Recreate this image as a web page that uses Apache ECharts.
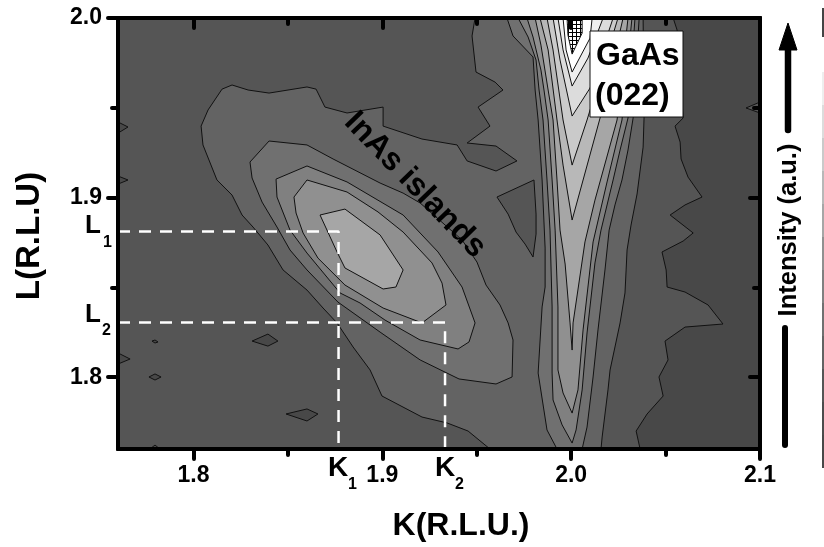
<!DOCTYPE html>
<html><head><meta charset="utf-8">
<style>html,body{margin:0;padding:0;background:#fff}#c{width:824px;height:547px}</style>
<script src="https://cdn.jsdelivr.net/npm/echarts@6/dist/echarts.min.js"></script>
</head><body><div id="c"></div>
<script>
const K_MIN=1.76,K_MAX=2.1,L_MIN=1.76,L_MAX=2.0;
const kMajor=[1.8,1.9,2.0,2.1], kMinor=[1.85,1.95,2.05];
const lMajor=[1.8,1.9,2.0], lMinor=[1.85,1.95];
const K1=1.8768,K2=1.9332,L1=1.8811,L2=1.8305;

// contour outlines, [k, l] in reciprocal lattice units
const floor=[[1.76,1.76],[2.1,1.76],[2.1,2],[1.76,2]];
const level1=[[1.76,2],[2.0540,2],[2.0561,1.9933],[2.0593,1.9443],[2.0550,1.9398],[2.0577,1.9309],[2.0582,1.9215],[2.0619,1.9114],[2.0693,1.9003],[2.0603,1.8959],[2.0524,1.8903],[2.0646,1.8803],[2.0593,1.8758],[2.0481,1.8697],[2.0503,1.8597],[2.0508,1.8502],[2.0603,1.8474],[2.0725,1.8402],[2.0804,1.8296],[2.0603,1.8279],[2.0497,1.8201],[2.0513,1.8096],[2.0465,1.8001],[2.0487,1.7895],[2.0402,1.7795],[2.0344,1.7700],[2.0365,1.76],[1.76,1.76]];
const dips=[
 [[1.8310,1.8201],[1.8394,1.8240],[1.8447,1.8201],[1.8394,1.8173]],
 [[1.7780,1.8201],[1.7796,1.8207],[1.7812,1.8196],[1.7796,1.8190]],
 [[1.7764,1.8001],[1.7796,1.8018],[1.7828,1.8001],[1.7796,1.7984]],
 [[1.76,1.8135],[1.7664,1.8101],[1.76,1.8073]],
 [[1.76,1.9421],[1.7653,1.9393],[1.76,1.9359]],
 [[1.76,1.9120],[1.7653,1.9098],[1.76,1.9075]],
 [[1.8490,1.7795],[1.8601,1.7823],[1.8659,1.7795],[1.8601,1.7756]],
 [[1.7769,1.76],[1.7796,1.7622],[1.7822,1.76]]
];
const edgeIsland=[[2.1,1.9532],[2.0926,1.9499],[2.1,1.9471]];
const level2=[[1.9570,1.76],[1.9454,1.7700],[1.9343,1.7745],[1.9210,1.7778],[1.8998,1.7895],[1.8935,1.8040],[1.8845,1.8168],[1.8760,1.8302],[1.8686,1.8385],[1.8601,1.8485],[1.8474,1.8597],[1.8394,1.8736],[1.8315,1.8836],[1.8257,1.8903],[1.8204,1.9014],[1.8124,1.9098],[1.8050,1.9293],[1.8040,1.9398],[1.8077,1.9488],[1.8151,1.9604],[1.8204,1.9627],[1.8289,1.9599],[1.8400,1.9582],[1.8601,1.9616],[1.8649,1.9604],[1.8696,1.9504],[1.8813,1.9471],[1.9004,1.9504],[1.9004,1.9398],[1.9210,1.9326],[1.9396,1.9293],[1.9449,1.9204],[1.9602,1.9148],[1.9713,1.9204],[1.9602,1.9287],[1.9449,1.9304],[1.9570,1.9398],[1.9507,1.9504],[1.9639,1.9599],[1.9597,1.9643],[1.9496,1.9699],[1.9475,1.9900],[1.9491,2],[2.0381,2],[2.0386,1.9443],[2.0381,1.9281],[2.0349,1.9020],[2.0317,1.8847],[2.0296,1.8708],[2.0291,1.8597],[2.0285,1.8469],[2.0259,1.8302],[2.0206,1.8040],[2.0195,1.7929],[2.0164,1.7667],[2.0158,1.76]];
const level2Hole=[[1.9607,1.9003],[1.9803,1.9098],[1.9814,1.8908],[1.9814,1.8797],[1.9798,1.8669],[1.9756,1.8741],[1.9708,1.8808],[1.9666,1.8908]];
const islandB=[[1.8299,1.9198],[1.8400,1.9315],[1.8601,1.9293],[1.8739,1.9215],[1.8988,1.9081],[1.9110,1.9025],[1.9200,1.8970],[1.9422,1.8764],[1.9501,1.8641],[1.9549,1.8513],[1.9623,1.8402],[1.9666,1.8302],[1.9692,1.8207],[1.9687,1.8001],[1.9602,1.7962],[1.9406,1.7990],[1.9200,1.8096],[1.8988,1.8251],[1.8765,1.8418],[1.8601,1.8597],[1.8511,1.8708],[1.8442,1.8836],[1.8363,1.8975],[1.8310,1.9109]];
const islandC=[[1.8437,1.9103],[1.8601,1.9176],[1.8813,1.9087],[1.9110,1.8903],[1.9295,1.8697],[1.9422,1.8502],[1.9491,1.8302],[1.9459,1.8196],[1.9401,1.8157],[1.9200,1.8207],[1.9014,1.8318],[1.8882,1.8413],[1.8776,1.8469],[1.8601,1.8691],[1.8511,1.8819],[1.8442,1.9003]];
const islandD=[[1.8532,1.9003],[1.8601,1.9098],[1.8813,1.9031],[1.8977,1.8920],[1.9110,1.8808],[1.9263,1.8636],[1.9316,1.8524],[1.9337,1.8402],[1.9210,1.8302],[1.9004,1.8385],[1.8802,1.8513],[1.8659,1.8663],[1.8580,1.8803],[1.8543,1.8914]];
const islandE=[[1.8670,1.8903],[1.8802,1.8936],[1.8988,1.8792],[1.9110,1.8597],[1.9072,1.8502],[1.9004,1.8491],[1.8802,1.8608],[1.8760,1.8697]];
const ridgeP=[[1.9660,2],[1.9692,1.9900],[1.9798,1.9783],[1.9809,1.9599],[1.9825,1.9432],[1.9846,1.9098],[1.9862,1.8719],[1.9862,1.8502],[1.9846,1.8391],[1.9825,1.8023],[1.9872,1.7706],[1.9925,1.76],[2.0058,1.76],[2.0084,1.7722],[2.0116,1.8001],[2.0142,1.8263],[2.0179,1.8597],[2.0201,1.8819],[2.0232,1.8959],[2.0269,1.9098],[2.0301,1.9265],[2.0328,1.9443],[2.0360,2]];
const ridgeQ=[[1.9719,2],[1.9772,1.9894],[1.9814,1.9766],[1.9830,1.9599],[1.9851,1.9432],[1.9872,1.9098],[1.9888,1.8819],[1.9899,1.8391],[1.9899,1.8023],[1.9904,1.7873],[1.9952,1.7734],[2.0005,1.7633],[2.0026,1.7706],[2.0058,1.7929],[2.0084,1.8246],[2.0126,1.8636],[2.0158,1.8819],[2.0222,1.9098],[2.0259,1.9265],[2.0301,1.9443],[2.0338,2]];
const ridgeR=[[1.9766,2],[1.9798,1.9894],[1.9840,1.9710],[1.9856,1.9599],[1.9878,1.9432],[1.9899,1.9098],[1.9915,1.8819],[1.9930,1.8391],[1.9930,1.8040],[1.9957,1.7912],[2.0005,1.7800],[2.0036,1.7929],[2.0063,1.8263],[2.0116,1.8753],[2.0190,1.9087],[2.0269,1.9432],[2.0322,2]];
const ridgeS=[[1.9809,2],[1.9840,1.9849],[1.9878,1.9599],[1.9904,1.9432],[1.9925,1.9098],[1.9941,1.8819],[1.9968,1.8630],[1.9994,1.8302],[2.0005,1.8151],[2.0010,1.8302],[2.0073,1.8753],[2.0126,1.8986],[2.0243,1.9432],[2.0301,2]];
const ridgeT=[[1.9835,2],[1.9878,1.9822],[1.9925,1.9432],[1.9957,1.9181],[2.0005,1.8875],[2.0153,1.9443],[2.0275,2]];
const ridgeU=[[1.9872,2],[1.9904,1.9822],[1.9957,1.9432],[2.0005,1.9181],[2.0084,1.9432],[2.0248,2]];
const ridgeV=[[1.9904,2],[1.9941,1.9766],[2.0005,1.9454],[2.0100,1.9610],[2.0222,2]];
const ridgeW=[[1.9930,2],[1.9957,1.9822],[2.0005,1.9621],[2.0089,1.9777],[2.0169,2]];
const ridgeX=[[1.9957,2],[1.9973,1.9822],[2.0005,1.9699],[2.0100,1.9888],[2.0111,2]];
const ridgeY=[[1.9978,2],[1.9983,1.9905],[2.0005,1.9799],[2.0058,1.9916],[2.0058,2]];

const shades=['#484848','#555555','#636363','#707070','#808080','#909090','#a6a6a6','#b8b8b8','#cacaca','#dcdcdc','#eeeeee','#ffffff'];
const scaleBar=['#eeeeee','#dcdcdc','#cacaca','#b8b8b8','#a6a6a6','#909090','#808080','#707070','#636363','#555555','#4c4c4c','#484848'];

const hatch=document.createElement('canvas');hatch.width=hatch.height=4;
(function(){const g=hatch.getContext('2d');g.fillStyle='#fff';g.fillRect(0,0,4,4);g.fillStyle='#000';g.fillRect(0,0,4,1);g.fillRect(0,0,1,4);})();

const layers=[
 [floor,shades[0]],[level1,shades[1]],
 ...dips.map(p=>[p,shades[0]]),[edgeIsland,shades[1]],
 [level2,shades[2]],[level2Hole,shades[1]],
 [islandB,shades[3]],[islandC,shades[4]],[islandD,shades[5]],[islandE,shades[6]],
 [ridgeP,shades[3]],[ridgeQ,shades[4]],[ridgeR,shades[5]],[ridgeS,shades[6]],
 [ridgeT,shades[7]],[ridgeU,shades[8]],[ridgeV,shades[9]],[ridgeW,shades[10]],[ridgeX,shades[11]],
 [ridgeY,{image:hatch,repeat:'repeat'}]
];

const FF='"Liberation Sans",Arial,sans-serif';
function xAx(pos,vals,len,inside,label){return {type:'value',min:K_MIN,max:K_MAX,position:pos,z:6,
 splitLine:{show:false},axisLine:{show:true,onZero:false,lineStyle:{color:'#000',width:4}},
 axisTick:{show:true,customValues:vals,length:len,inside:inside,lineStyle:{color:'#000',width:4,cap:'round'}},
 axisLabel:label?{show:true,customValues:kMajor,margin:15,color:'#000',fontFamily:FF,fontWeight:'bold',fontSize:23,formatter:v=>v.toFixed(1)}:{show:false}};}
function yAx(pos,vals,len,inside,label){return {type:'value',min:L_MIN,max:L_MAX,position:pos,z:6,
 splitLine:{show:false},axisLine:{show:true,onZero:false,lineStyle:{color:'#000',width:4}},
 axisTick:{show:true,customValues:vals,length:len,inside:inside,lineStyle:{color:'#000',width:4,cap:'round'}},
 axisLabel:label?{show:true,customValues:lMajor,margin:16,color:'#000',fontFamily:FF,fontWeight:'bold',fontSize:23,formatter:v=>v.toFixed(1)}:{show:false}};}

function T(text,x,base,size){return {type:'text',z:50,x:x,y:base-0.35*size,style:{text:text,fill:'#000',font:'bold '+size+'px '+FF,textAlign:'left',textVerticalAlign:'middle'}};}
function C(text,x,y,size,deg){return {type:'text',z:50,x:x,y:y,rotation:(deg||0)*Math.PI/180,style:{text:text,fill:'#000',font:'bold '+size+'px '+FF,textAlign:'center',textVerticalAlign:'middle'}};}

const graphics=[
 {type:'rect',z:40,shape:{x:590,y:31,width:93,height:86},style:{fill:'#fff',stroke:'#111',lineWidth:1}},
 T('GaAs',596,67,32),T('(022)',595,107,32),
 C('InAs islands',415,185,32,-46),
 T('K',328,478,28),T('1',348,490,16),T('K',435,478,28),T('2',455,490,16),
 T('L',85,235,26),T('1',103,248,16),T('L',85,324,26),T('2',102,336,16),
 C('K(R.L.U.)',461,526,32),
 C('L(R.L.U)',30,236,33,90),
 C('Intensity (a.u.)',789,230,25.5,90),
 {type:'polygon',z:40,shape:{points:[[788,23],[797,50],[779,50]]},style:{fill:'#000',stroke:'#000',lineWidth:1,lineJoin:'round'}},
 {type:'line',z:40,shape:{x1:788,y1:48,x2:788,y2:130},style:{stroke:'#000',lineWidth:6.5,lineCap:'round'}},
 {type:'line',z:40,shape:{x1:785,y1:328,x2:785,y2:445},style:{stroke:'#000',lineWidth:6,lineCap:'round'}},
 {type:'rect',z:40,shape:{x:822,y:8,width:2,height:29},style:{fill:'#444'}}
];
scaleBar.forEach((c,i)=>graphics.push({type:'rect',z:40,shape:{x:822,y:72+i*33,width:2,height:33},style:{fill:c}}));

const chart=echarts.init(document.getElementById('c'),null,{renderer:'canvas'});
chart.setOption({
 animation:false,
 grid:{left:118,top:18,width:642,height:431,containLabel:false},
 xAxis:[xAx('bottom',kMajor,10,false,true),xAx('top',kMajor,10,true,false),xAx('bottom',kMinor,6,false,false),xAx('top',kMinor,6,true,false)],
 yAxis:[yAx('left',lMajor,10,false,true),yAx('right',lMajor,10,true,false),yAx('left',lMinor,6,false,false),yAx('right',lMinor,6,true,false)],
 series:[
  {type:'custom',xAxisIndex:0,yAxisIndex:0,z:2,silent:true,clip:true,data:layers.map((_,i)=>[i]),encode:{x:[],y:[]},
   renderItem:function(p,api){const l=layers[p.dataIndex];
    return {type:'polygon',shape:{points:l[0].map(q=>api.coord(q))},style:{fill:l[1],stroke:'#111',lineWidth:1,lineJoin:'miter'}};}},
  {type:'line',xAxisIndex:0,yAxisIndex:0,z:4,silent:true,showSymbol:false,data:[[K_MIN,L1],[K1,L1],[K1,L_MIN]],lineStyle:{color:'#fff',width:2.5,type:[12,9]}},
  {type:'line',xAxisIndex:0,yAxisIndex:0,z:4,silent:true,showSymbol:false,data:[[K_MIN,L2],[K2,L2],[K2,L_MIN]],lineStyle:{color:'#fff',width:2.5,type:[12,9]}}
 ],
 graphic:graphics
});
</script></body></html>
